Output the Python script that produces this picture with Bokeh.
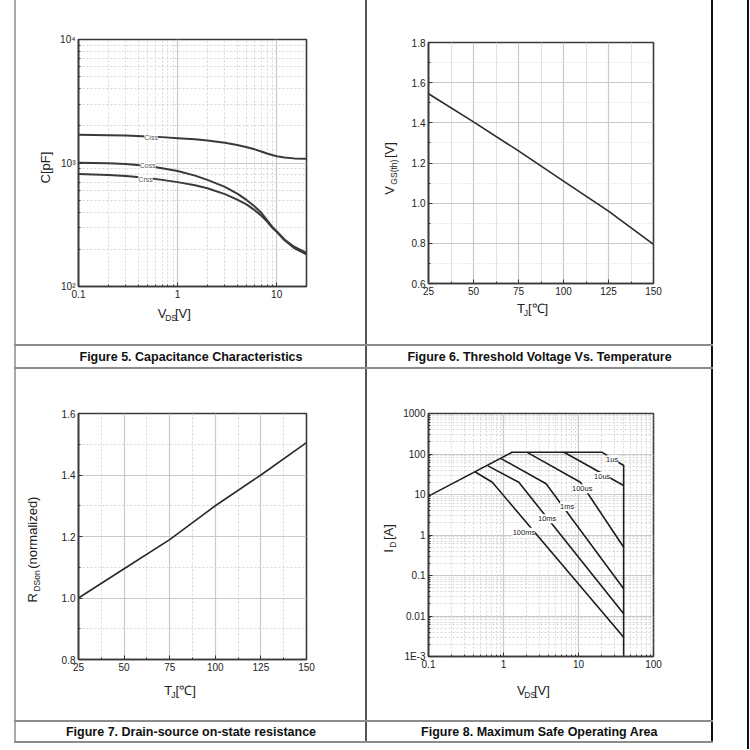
import math
from bokeh.plotting import figure
from bokeh.models import Range1d, FixedTicker, Label, ColumnDataSource, Div, Spacer
from bokeh.layouts import row, column
from bokeh.embed import file_html
from bokeh.resources import INLINE

# ---------------- data ----------------
# Figure 5: capacitance vs VDS
cap_vds = [0.1, 0.2, 0.3, 0.5, 0.7, 1, 1.5, 2, 3, 4, 5, 6, 7, 8, 9, 10, 12, 15, 20]
cap_ciss = [1690, 1680, 1670, 1640, 1620, 1590, 1555, 1520, 1460, 1400, 1340, 1290, 1240, 1195, 1160, 1135, 1110, 1090, 1080]
cap_coss = [1005, 995, 980, 945, 905, 860, 790, 730, 640, 565, 500, 445, 395, 345, 305, 280, 240, 210, 187]
cap_crss = [815, 800, 785, 755, 730, 700, 660, 625, 560, 505, 460, 415, 375, 335, 300, 277, 237, 205, 182]
cap_names = ["Ciss", "Coss", "Crss"]
cap_name_v = [0.54, 0.50, 0.475]
cap_name_c = [1603, 946, 738]
cap_xticks = [0.1, 1, 10]
cap_xlabels = ["0.1", "1", "10"]
cap_yticks = [100, 1000, 10000]
cap_ylabels = ["10\u00b2", "10\u00b3", "10\u2074"]

# Figure 6: threshold voltage vs temperature
vth_t = [25, 50, 75, 100, 125, 150]
vth_v = [1.545, 1.405, 1.26, 1.11, 0.96, 0.795]
t_ticks = [25, 50, 75, 100, 125, 150]
t_labels = ["25", "50", "75", "100", "125", "150"]
vth_yticks = [0.6, 0.8, 1.0, 1.2, 1.4, 1.6, 1.8]
vth_ylabels = ["0.6", "0.8", "1.0", "1.2", "1.4", "1.6", "1.8"]

# Figure 7: normalized RDS(on) vs temperature
rds_t = [25, 50, 75, 100, 125, 150]
rds_r = [1.0, 1.095, 1.19, 1.30, 1.40, 1.505]
rds_yticks = [0.8, 1.0, 1.2, 1.4, 1.6]
rds_ylabels = ["0.8", "1.0", "1.2", "1.4", "1.6"]

# Figure 8: safe operating area
soa_names = ["1us", "10us", "100us", "1ms", "10ms", "100ms"]
soa_v = [
    [0.1, 1.3, 20.7, 40, 40],
    [6.4, 40],
    [2.07, 10.6, 40],
    [0.93, 3.7, 40],
    [0.62, 1.6, 40],
    [0.42, 0.71, 40],
]
soa_i = [
    [9.1, 110, 110, 52, 0.001],
    [110, 16.7],
    [110, 20, 0.5],
    [77, 18.4, 0.047],
    [51, 20, 0.0113],
    [36, 20, 0.003],
]
soa_name_v = [28.1, 20.7, 11.2, 7.06, 3.82, 1.87]
soa_name_i = [72, 27.8, 13.8, 5.06, 2.51, 1.17]
soa_xticks = [0.1, 1, 10, 100]
soa_xlabels = ["0.1", "1", "10", "100"]
soa_yticks = [0.001, 0.01, 0.1, 1, 10, 100, 1000]
soa_ylabels = ["1E-3", "0.01", "0.1", "1", "10", "100", "1000"]

captions = ["Figure 5. Capacitance Characteristics",
            "Figure 6. Threshold Voltage Vs. Temperature",
            "Figure 7. Drain-source on-state resistance",
            "Figure 8. Maximum Safe Operating Area"]

# ---------------- helpers ----------------
FONT = "Liberation Sans"
AX = "#3a3a3a"
GMAJ = "#c9c9c9"
GMIN = "#d6d6d6"

def log_minor(majors):
    return [m * k for m in majors[:-1] for k in range(2, 10)]

WID = {'V': .667, 'D': .722, 'S': .667, '[': .278, ']': .278, 'C': .722, 'p': .556, 'F': .611,
       'T': .611, 'J': .5, 'G': .778, '(': .333, ')': .333, 't': .278, 'h': .556, 'R': .722,
       'o': .556, 'n': .556, 'r': .333, 'm': .833, 'a': .556, 'l': .222, 'i': .222, 'z': .5,
       'e': .556, 'd': .556, 'I': .278, 'A': .667, '\u2103': 1.0}

def tw(s, size):
    return sum(WID.get(c, .556) for c in s) * size

def blank_fig(x0, y0, x1, y1):
    # a panel whose data coordinates are page pixels (y downwards)
    p = figure(width=x1 - x0, height=y1 - y0, x_range=Range1d(x0, x1), y_range=Range1d(y1, y0),
               toolbar_location=None, output_backend="svg", title=None,
               x_axis_location=None, y_axis_location=None, min_border=0,
               min_border_left=0, min_border_right=0, min_border_top=0, min_border_bottom=0)
    p.outline_line_color = None
    p.background_fill_color = "white"
    p.border_fill_color = "white"
    p.grid.visible = False
    return p

def compose(p, cx, cy, parts, vertical=False, main=13, sub=8.5):
    sizes = [sub if s else main for _, s in parts]
    gaps = [1.5 if s else 0 for _, s in parts]
    total = sum(tw(t, sz) + 2 * g for (t, _), sz, g in zip(parts, sizes, gaps))
    pos = (cx - total / 2) if not vertical else (cy + total / 2)
    for (t, s), sz, g in zip(parts, sizes, gaps):
        off = 4 if s else 0
        if not vertical:
            pos += g
            p.add_layout(Label(x=pos, y=cy + off, text=t, text_align="left", text_baseline="middle",
                               text_font=FONT, text_font_size=f"{sz}px", text_color="#222"))
            pos += tw(t, sz) + g
        else:
            pos -= g
            p.add_layout(Label(x=cx + off, y=pos, text=t, text_align="left", text_baseline="middle",
                               angle=90, angle_units="deg", text_font=FONT,
                               text_font_size=f"{sz}px", text_color="#222"))
            pos -= tw(t, sz) + g

def chart(box, frame, xr, yr, xlog=False, ylog=False):
    cx0, cy0, cx1, cy1 = box
    L, T, R, B = frame
    p = figure(width=cx1 - cx0, height=cy1 - cy0,
               x_range=Range1d(*xr), y_range=Range1d(*yr),
               x_axis_type="log" if xlog else "linear",
               y_axis_type="log" if ylog else "linear",
               toolbar_location=None, output_backend="svg", title=None,
               min_border_left=L - cx0, min_border_right=cx1 - R,
               min_border_top=T - cy0, min_border_bottom=cy1 - B)
    p.outline_line_color = AX
    p.outline_line_width = 1.6
    p.background_fill_color = "white"
    p.border_fill_color = "white"
    for ax in p.axis:
        ax.axis_line_color = AX
        ax.axis_line_width = 1.6
        ax.major_tick_in = 4
        ax.major_tick_out = 0
        ax.minor_tick_in = 2
        ax.minor_tick_out = 0
        ax.major_tick_line_color = "#333"
        ax.minor_tick_line_color = "#333"
        ax.major_label_text_font = FONT
        ax.major_label_text_font_size = "10px"
        ax.major_label_text_color = "#222"
        ax.major_label_standoff = 3
    return p

def ticks(p, dim, major, minor, labels, minor_dash="2 2", minor_color=GMIN):
    t = FixedTicker(ticks=major, minor_ticks=minor)
    ax = p.xaxis[0] if dim == 0 else p.yaxis[0]
    g = p.xgrid[0] if dim == 0 else p.ygrid[0]
    ax.ticker = t
    g.ticker = t
    ax.major_label_overrides = dict(zip(major, labels))
    g.grid_line_color = GMAJ
    g.grid_line_width = 1.2
    g.minor_grid_line_color = minor_color
    g.minor_grid_line_width = 1
    g.minor_grid_line_dash = minor_dash

def cell(chart_fig, cell_box, ysplit, xsplit, xtitle, ytitle):
    """cell_box=(x0,y0,x1,y1); ysplit: x where the chart starts; xsplit: y where the x-title panel starts."""
    x0, y0, x1, y1 = cell_box
    yp = blank_fig(x0, y0, ysplit, y1)
    compose(yp, *ytitle[0], ytitle[1], vertical=True)
    xp = blank_fig(ysplit, xsplit, x1, y1)
    compose(xp, *xtitle[0], xtitle[1])
    return row(yp, column(chart_fig, xp))

def bar(w, h, color):
    return Div(text="", width=w, height=h, margin=(0, 0, 0, 0),
               styles={"background-color": color})

def gap(w, h):
    return Spacer(width=w, height=h, margin=(0, 0, 0, 0))

def caption(text, x0, y0, x1, y1):
    p = blank_fig(x0, y0, x1, y1)
    p.add_layout(Label(x=(x0 + x1) / 2, y=(y0 + y1) / 2, text=text, text_align="center",
                       text_baseline="middle", text_font=FONT, text_font_style="bold",
                       text_font_size="12.5px", text_color="#111"))
    return p

# ---------------- Figure 5 ----------------
f5 = chart((56, 0, 365, 304), (78, 39, 306, 286), (0.1, 20), (100, 10000), True, True)
ticks(f5, 0, cap_xticks, log_minor([0.1, 1, 10, 100]), cap_xlabels)
ticks(f5, 1, cap_yticks, log_minor(cap_yticks), cap_ylabels)
src5 = ColumnDataSource(dict(v=cap_vds, ciss=cap_ciss, coss=cap_coss, crss=cap_crss))
for col in ["ciss", "coss", "crss"]:
    f5.line("v", col, source=src5, line_color="#3a3a3a", line_width=2)
for n, v, c in zip(cap_names, cap_name_v, cap_name_c):
    f5.add_layout(Label(x=v, y=c, text=n, text_align="center", text_baseline="middle",
                        text_font=FONT, text_font_size="7px", text_color="#555",
                        background_fill_color="white"))
cell5 = cell(f5, (16, 0, 365, 344), 56, 304,
             ((183, 313), [("V", False), ("DS", True), ("[V]", False)]),
             ((45, 167), [("C[pF]", False)]))

# ---------------- Figure 6 ----------------
f6 = chart((400, 0, 711, 300), (428, 42, 653, 283), (25, 150), (0.6, 1.8))
ticks(f6, 0, t_ticks, [37.5, 62.5, 87.5, 112.5, 137.5], t_labels, minor_dash="solid", minor_color="#e2e2e2")
ticks(f6, 1, vth_yticks, [0.7, 0.9, 1.1, 1.3, 1.5, 1.7], vth_ylabels, minor_dash="1 2")
f6.line(vth_t, vth_v, line_color="#2a2a2a", line_width=1.6)
cell6 = cell(f6, (367, 0, 711, 344), 400, 300,
             ((540, 308), [("T", False), ("J", True), ("[\u2103]", False)]),
             ((389, 168), [("V", False), ("GS(th)", True), ("[V]", False)]))

# ---------------- Figure 7 ----------------
f7 = chart((56, 369, 365, 679), (78, 413, 306, 659), (25, 150), (0.8, 1.6))
ticks(f7, 0, t_ticks, [37.5, 62.5, 87.5, 112.5, 137.5], t_labels)
ticks(f7, 1, rds_yticks, [0.9, 1.1, 1.3, 1.5], rds_ylabels)
f7.line(rds_t, rds_r, line_color="#2a2a2a", line_width=1.6)
cell7 = cell(f7, (16, 369, 365, 720), 56, 679,
             ((190, 690), [("T", False), ("J", True), ("[\u2103]", False)]),
             ((32, 549), [("R", False), ("DSon", True), ("(normalized)", False)]))

# ---------------- Figure 8 ----------------
f8 = chart((400, 369, 711, 679), (428, 413, 653, 656), (0.1, 100), (0.001, 1000), True, True)
ticks(f8, 0, soa_xticks, log_minor(soa_xticks), soa_xlabels)
ticks(f8, 1, soa_yticks, log_minor(soa_yticks), soa_ylabels)
for vv, ii in zip(soa_v, soa_i):
    f8.line(vv, ii, line_color="#1e1e1e", line_width=1.6)
for n, v, i in zip(soa_names, soa_name_v, soa_name_i):
    f8.add_layout(Label(x=v, y=i, text=n, text_align="center", text_baseline="middle",
                        text_font=FONT, text_font_size="7.5px", text_color="#222",
                        background_fill_color="white"))
cell8 = cell(f8, (367, 369, 711, 720), 400, 679,
             ((542, 690), [("V", False), ("DS", True), ("[V]", False)]),
             ((388, 538), [("I", False), ("D", True), ("[A]", False)]))

# ---------------- table layout ----------------
LB, MID, RB, FR, HL = "#a8a8a8", "#555555", "#111111", "#111111", "#8c8c8c"

def cell_row(h, a, b):
    return row(gap(14, h), bar(2, h, LB), a, bar(2, h, MID), b, bar(2, h, RB), gap(34, h), bar(2, h, FR))

def hline_row():
    return row(gap(14, 2), bar(699, 2, HL), gap(34, 2), bar(2, 2, FR))

page = column(
    cell_row(344, cell5, cell6),
    hline_row(),
    cell_row(21, caption(captions[0], 16, 346, 365, 367), caption(captions[1], 367, 346, 711, 367)),
    hline_row(),
    cell_row(351, cell7, cell8),
    hline_row(),
    cell_row(19, caption(captions[2], 16, 722, 365, 741), caption(captions[3], 367, 722, 711, 741)),
    hline_row(),
    row(gap(747, 6), bar(2, 6, FR)),
)

open("out.html", "w").write(file_html(page, INLINE))
